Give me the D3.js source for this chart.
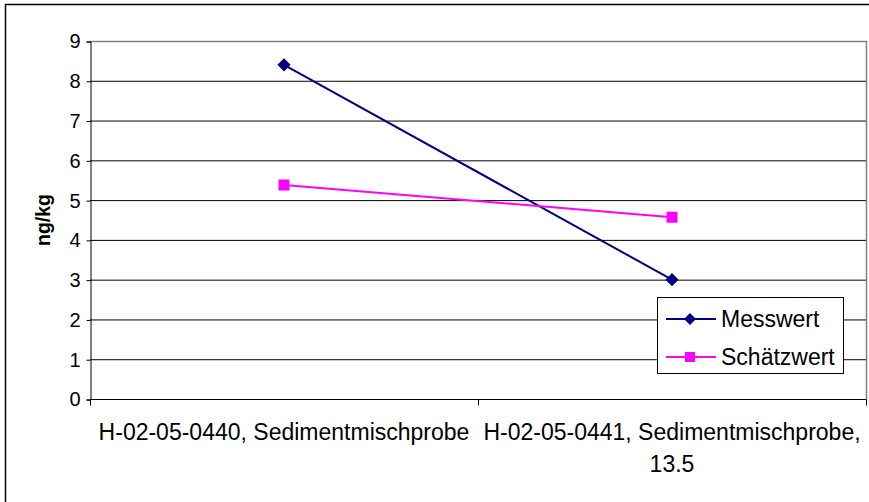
<!DOCTYPE html>
<html><head><meta charset="utf-8">
<script src="https://cdn.jsdelivr.net/npm/d3@7/dist/d3.min.js"></script>
<style>body{margin:0;background:#fff;} svg{display:block;font-family:"Liberation Sans",Arial,sans-serif;}</style>
</head><body>
<svg id="c" width="869" height="502"></svg>
<script>
const categories = [["H-02-05-0440, Sedimentmischprobe"], ["H-02-05-0441, Sedimentmischprobe,", "13.5"]];
const seriesNames = ["Messwert", "Schätzwert"];
const messwert = [8.4, 3.0];
const schaetzwert = [5.38, 4.57];
const yTicks = [0,1,2,3,4,5,6,7,8,9];
const yLabel = "ng/kg";

const svg = d3.select("#c");
const L = 90, R = 866, T = 41, B = 399;
// outer chart border
svg.append("rect").attr("x",5.5).attr("y",4.5).attr("width",880).attr("height",520)
  .attr("fill","#fff").attr("stroke","#000").attr("stroke-width",1.5);

const catKeys = categories.map((c,i)=>"c"+i);
const x = d3.scaleBand().domain(catKeys).range([L,R]);
const y = d3.scaleLinear().domain([0,9]).range([B,T]);

// gridlines
svg.append("g").selectAll("line").data(yTicks.filter(d=>d>0 && d<9)).join("line")
  .attr("x1",L).attr("x2",R).attr("y1",d=>y(d)+0.5).attr("y2",d=>y(d)+0.5)
  .attr("stroke","#000").attr("stroke-width",1);
// plot border top/right (gray)
svg.append("path").attr("d",`M${L},${T+0.5}H${R+0.5}V${B}`).attr("fill","none")
  .attr("stroke","#808080").attr("stroke-width",1.5);

// y axis
const yAxis = d3.axisLeft(y).tickValues(yTicks).tickSize(4).tickPadding(6).tickFormat(d3.format("d"));
const gy = svg.append("g").attr("transform",`translate(${L+0.5},0.5)`).call(yAxis);
gy.select(".domain").attr("stroke","#000");
gy.selectAll(".tick line").attr("stroke","#000");
gy.selectAll(".tick text").attr("font-size","20px").attr("fill","#000").attr("font-family","Liberation Sans, Arial, sans-serif");

// x axis
const gx = svg.append("g").attr("transform",`translate(0,${B+0.5})`);
gx.append("line").attr("x1",L).attr("x2",R+0.5).attr("stroke","#000");
const bounds = [L, L + x.bandwidth(), R];
gx.selectAll(".tk").data(bounds).join("line").attr("class","tk")
  .attr("x1",d=>d+0.5).attr("x2",d=>d+0.5).attr("y1",0).attr("y2",6).attr("stroke","#000");
categories.forEach((lines,i)=>{
  const t = gx.append("text").attr("x",x(catKeys[i])+x.bandwidth()/2).attr("y",40)
    .attr("text-anchor","middle").attr("font-size","23px").attr("fill","#000");
  lines.forEach((ln,j)=>t.append("tspan").attr("x",x(catKeys[i])+x.bandwidth()/2).attr("dy", j===0?0:32.5).text(ln));
});

// y label
svg.append("text").attr("transform",`translate(50,${(T+B)/2}) rotate(-90)`)
  .attr("text-anchor","middle").attr("font-size","19.5px").attr("font-weight","bold").text(yLabel);

const cx = i => x(catKeys[i]) + x.bandwidth()/2;
const line = d3.line().x((d,i)=>cx(i)).y(d=>y(d));
const series = [
  {name: seriesNames[0], values: messwert, color:"#000080", shape:"diamond"},
  {name: seriesNames[1], values: schaetzwert, color:"#FF00FF", shape:"square"}
];
function marker(g, shape, color, px, py, s){
  if(shape==="diamond"){
    const h = s*0.6;
    g.append("path").attr("d",`M${px},${py-h}L${px+h},${py}L${px},${py+h}L${px-h},${py}Z`).attr("fill",color);
  } else {
    const h = s*0.5;
    g.append("rect").attr("x",px-h).attr("y",py-h).attr("width",2*h).attr("height",2*h).attr("fill",color);
  }
}
series.forEach(s=>{
  svg.append("path").datum(s.values).attr("d",line).attr("fill","none").attr("stroke",s.color).attr("stroke-width",2);
  const g = svg.append("g");
  s.values.forEach((v,i)=>marker(g,s.shape,s.color,cx(i),y(v),s.shape==="diamond"?11:11));
});

// legend
const lg = svg.append("g");
lg.append("rect").attr("x",657.5).attr("y",297.5).attr("width",186).attr("height",76)
  .attr("fill","#fff").attr("stroke","#000").attr("stroke-width",1);
series.forEach((s,i)=>{
  const ly = 319 + i*38;
  lg.append("line").attr("x1",666).attr("x2",716).attr("y1",ly).attr("y2",ly).attr("stroke",s.color).attr("stroke-width",2);
  marker(lg,s.shape,s.color,690,ly,10);
  lg.append("text").attr("x",721).attr("y",ly+8).attr("font-size","23px").attr("fill","#000").text(s.name);
});
</script>
</body></html>
